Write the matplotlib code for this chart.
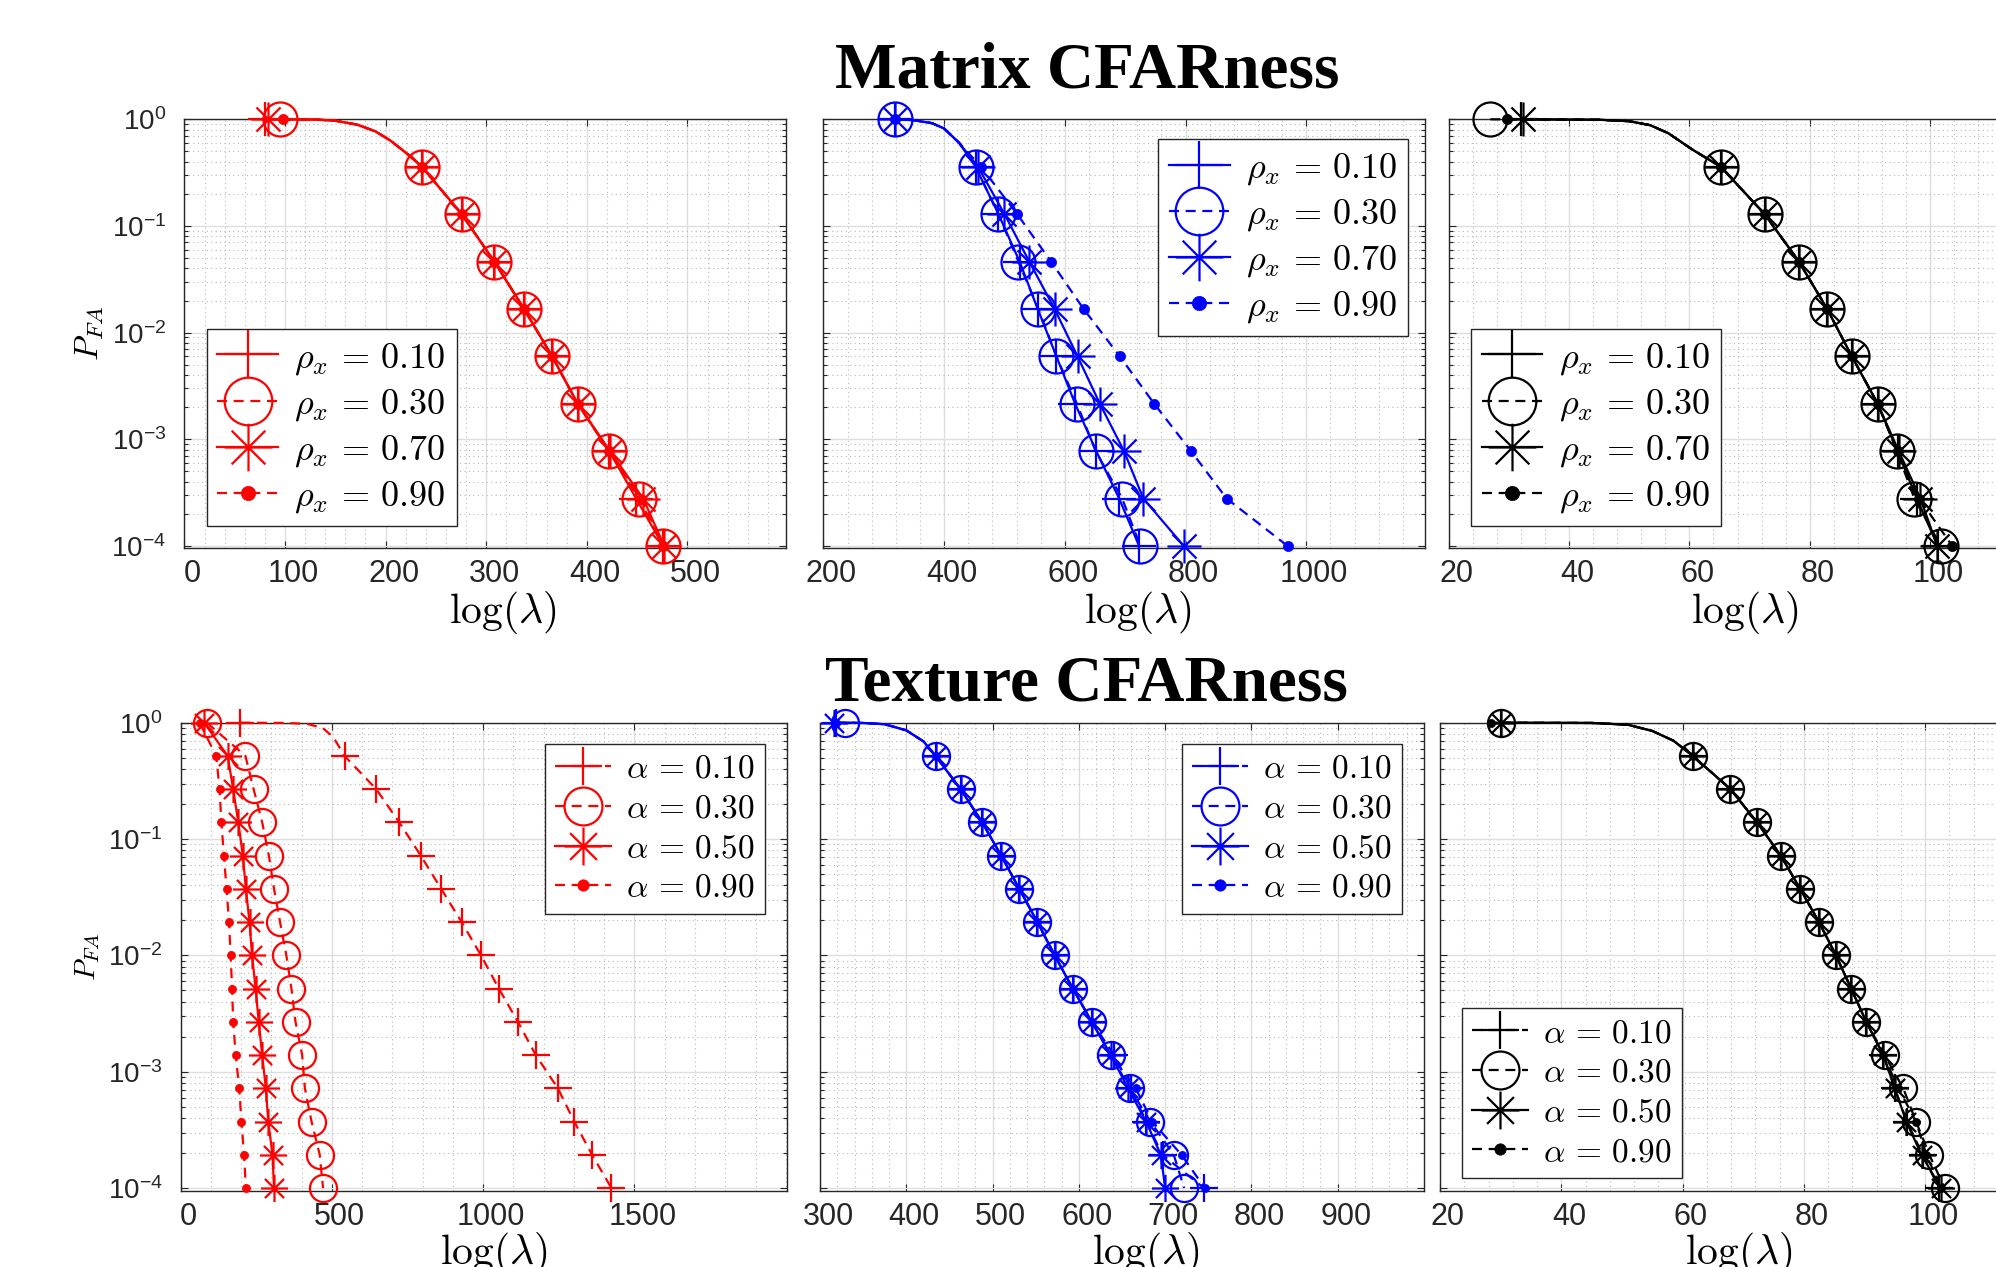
import matplotlib
matplotlib.use("Agg")
import matplotlib.pyplot as plt
from matplotlib.path import Path
from matplotlib.transforms import ScaledTranslation
from matplotlib.ticker import FixedLocator, MultipleLocator, LogLocator, FuncFormatter, NullFormatter
import math

plt.rcParams['font.family'] = ['Liberation Sans', 'DejaVu Sans']
plt.rcParams['mathtext.fontset'] = 'custom'
plt.rcParams['mathtext.rm'] = 'Liberation Sans'
plt.rcParams['mathtext.it'] = 'Liberation Sans:italic'
plt.rcParams['mathtext.bf'] = 'Liberation Sans:bold'

# ---------------- data ----------------
PFA_TOP = [1.0, 0.3594, 0.1292, 0.04642, 0.01668, 0.005995, 0.002154, 0.0007743, 0.0002783, 0.0001]
PFA_BOT = [1.0, 0.5179, 0.2683, 0.1389, 0.07197, 0.03728, 0.01931, 0.01, 0.005179,
           0.002683, 0.001389, 0.0007197, 0.0003728, 0.0001931, 0.0001]

RHO_LABELS = [r'$\rho_x \,=\, 0.10$', r'$\rho_x \,=\, 0.30$', r'$\rho_x \,=\, 0.70$', r'$\rho_x \,=\, 0.90$']
ALPHA_LABELS = [r'$\alpha \,=\, 0.10$', r'$\alpha \,=\, 0.30$', r'$\alpha \,=\, 0.50$', r'$\alpha \,=\, 0.90$']

# Matrix CFARness - red panel
m_red_010 = [80, 236, 275.6, 308, 337.6, 365.5, 390.9, 422.3, 449, 476]
m_red_030 = [95, 236, 275.6, 308, 337.6, 365.5, 390.9, 422, 452, 475.6]
m_red_070 = [83, 236, 275.6, 308, 337.6, 365.5, 391, 423, 456, 477]
m_red_090 = [98, 236, 275.6, 308, 337.6, 365.5, 390.9, 422.3, 454, 476]
m_red_sh_x = [130, 150, 172, 190, 205, 222]
m_red_sh_p = [0.995, 0.97, 0.89, 0.77, 0.63, 0.47]

# Matrix CFARness - blue panel
m_blue_010 = [318, 452, 490, 525, 555, 586, 617, 652, 690, 723]
m_blue_030 = [318, 452, 490, 523, 556, 586, 620, 651, 695, 725]
m_blue_070 = [318, 456, 500, 541, 583, 621, 658, 698, 730, 797]
m_blue_090 = [318, 461, 521, 577, 631, 691, 748, 809, 868, 969]
m_blue_sh_x = [350, 380, 400, 425]
m_blue_sh_p = [0.98, 0.92, 0.82, 0.6]

# Matrix CFARness - black panel
m_black_010 = [32, 65.2, 72.5, 78.2, 82.9, 87.0, 91.3, 94.6, 97.8, 101.3]
m_black_030 = [26.9, 65.2, 72.5, 78.2, 82.9, 87.0, 91.3, 94.5, 97.4, 101.8]
m_black_070 = [32.4, 65.2, 72.5, 78.2, 82.9, 87.0, 91.3, 94.8, 98.4, 101.2]
m_black_090 = [29.6, 65.2, 72.5, 78.2, 82.9, 87.0, 91.3, 94.6, 98.2, 103.7]
m_black_sh_x = [45, 50, 53.5, 56.5, 60.5]
m_black_sh_p = [0.99, 0.96, 0.88, 0.74, 0.52]

# Texture CFARness - red panel
t_red_010 = [197.6, 542, 647, 723, 794, 861.5, 929, 993, 1052, 1115, 1174, 1247, 1301, 1360, 1424]
t_red_030 = [87, 214.5, 241.6, 270, 292, 309, 329, 349.7, 366.6, 380, 402, 411, 433, 460, 471]
t_red_050 = [78, 156, 174, 191, 206, 216, 228, 236.5, 248.3, 258.4, 270, 282, 290, 304, 309]
t_red_090 = [63, 118, 129, 135, 143.6, 152, 160.5, 165.5, 170.6, 174, 182.4, 194, 201.5, 210, 216]
t_red_sh_x = [350, 420, 470, 505]
t_red_sh_p = [0.995, 0.975, 0.9, 0.75]

# Texture CFARness - blue panel
t_blue_010 = [318, 434, 463, 488, 510, 531, 552, 572, 593, 615, 641, 660, 678, 697, 745]
t_blue_030 = [329, 434, 463, 488, 510, 531, 552, 572, 593, 615, 637, 659, 683, 710, 722]
t_blue_050 = [316, 434, 463, 488, 510, 531, 552, 572, 593, 615, 637, 657, 678, 695, 700]
t_blue_090 = [318, 434, 463, 488, 510, 531, 552, 572, 593, 615, 637, 666, 685, 719, 746]
t_blue_sh_x = [350, 375, 400, 420]
t_blue_sh_p = [0.995, 0.97, 0.86, 0.69]

# Texture CFARness - black panel
t_black_010 = [30, 61.7, 67.9, 72.3, 76.2, 79.4, 82.5, 85.3, 87.8, 90.3, 93.1, 95.0, 97.0, 99.6, 102.3]
t_black_030 = [30, 61.7, 67.9, 72.3, 76.2, 79.4, 82.5, 85.3, 87.8, 90.3, 93.3, 96.4, 98.5, 100.7, 103.2]
t_black_050 = [30, 61.7, 67.9, 72.3, 76.2, 79.4, 82.5, 85.3, 87.8, 90.3, 93.1, 95.0, 96.9, 99.4, 102.6]
t_black_090 = [28.4, 61.7, 67.9, 72.3, 76.2, 79.4, 82.5, 85.3, 87.8, 90.3, 93.1, 95.6, 98.5, 100.2, 102.6]
t_black_sh_x = [45, 51, 55, 58.5]
t_black_sh_p = [0.995, 0.96, 0.85, 0.7]

XTICKS_M_RED = [0, 100, 200, 300, 400, 500]
XTICKS_M_BLUE = [200, 400, 600, 800, 1000]
XTICKS_M_BLACK = [20, 40, 60, 80, 100]
XTICKS_T_RED = [0, 500, 1000, 1500]
XTICKS_T_BLUE = [300, 400, 500, 600, 700, 800, 900]
XTICKS_T_BLACK = [20, 40, 60, 80, 100]
YTICKS = [1e-4, 1e-3, 1e-2, 1e-1, 1]

# ---------------- styling ----------------
W, H = 1996, 1267
fig = plt.figure(figsize=(W / 100, H / 100), dpi=100)
fig.patch.set_facecolor('white')

c = 0.7071
ASTERISK = Path([(-1, 0), (1, 0), (0, -1), (0, 1), (-c, -c), (c, c), (-c, c), (c, -c)],
                [Path.MOVETO, Path.LINETO] * 4)

LW = 1.6
DASH = (4.5, 3.0)
AXC = '#262626'


def add_series(ax, xs, ps, sh_x, sh_p, color, kind, ls, ms, label):
    if sh_x:
        lx = [xs[0]] + list(sh_x) + list(xs[1:])
        lp = [ps[0]] + list(sh_p) + list(ps[1:])
        idx = [0] + list(range(len(sh_x) + 1, len(lx)))
    else:
        lx, lp, idx = list(xs), list(ps), list(range(len(xs)))
    kw = dict(color=color, lw=LW, clip_on=False, markevery=idx, label=label,
              markeredgewidth=LW, zorder=3)
    if ls == '--':
        kw['linestyle'] = '--'
        kw['dashes'] = DASH
    else:
        kw['linestyle'] = '-'
    if kind == '+':
        kw.update(marker='+', markersize=ms)
    elif kind == 'o':
        kw.update(marker='o', markersize=ms, markerfacecolor='none')
    elif kind == '*':
        kw.update(marker=ASTERISK, markersize=ms, markerfacecolor='none')
    else:
        kw.update(marker='o', markersize=ms * 0.3, markerfacecolor=color, markeredgewidth=0.5)
    line, = ax.plot(lx, lp, **kw)
    return line


def make_axes(left_px, top_px, right_px, bottom_px):
    return fig.add_axes([left_px / W, 1 - bottom_px / H, (right_px - left_px) / W,
                         (bottom_px - top_px) / H])


def style_axes(ax, xlim, xticks, xminor, show_ylabels, ylabel_size):
    ax.set_yscale('log')
    ax.set_ylim(9.5e-5, 1)
    ax.set_xlim(*xlim)
    ax.xaxis.set_major_locator(FixedLocator(xticks))
    ax.xaxis.set_minor_locator(MultipleLocator(xminor))
    ax.yaxis.set_major_locator(FixedLocator(YTICKS))
    ax.yaxis.set_minor_locator(LogLocator(base=10, subs=[2, 3, 4, 5, 6, 7, 8, 9], numticks=20))
    ax.yaxis.set_minor_formatter(NullFormatter())
    ax.yaxis.set_major_formatter(FuncFormatter(
        lambda v, p: r'$10^{%d}$' % int(round(math.log10(v)))))
    ax.set_axisbelow(True)
    ax.grid(True, which='major', color='#dedede', lw=1.0, ls='-')
    ax.grid(True, which='minor', color='#b8b8b8', lw=0.8, ls=(0, (1, 3)))
    ax.tick_params(which='both', direction='in', top=True, right=True, colors=AXC, width=0.8)
    ax.tick_params(which='major', length=5)
    ax.tick_params(which='minor', length=3)
    ax.tick_params(axis='x', which='minor', length=0)
    ax.tick_params(axis='x', labelsize=22, pad=8, labelcolor=AXC)
    ax.tick_params(axis='y', labelsize=20, pad=13, labelcolor=AXC, labelleft=show_ylabels)
    for s in ax.spines.values():
        s.set_color(AXC)
        s.set_linewidth(1.0)
    if show_ylabels:
        ax.set_ylabel(r'$P_{FA}$', fontsize=ylabel_size, math_fontfamily='cm', color='black')
        ax.yaxis.set_label_coords(-0.13, 0.5)
    # MATLAB export shifts x tick labels slightly to the right of their ticks
    ticks = ax.xaxis.get_major_ticks(len(xticks))
    off = ScaledTranslation(8 / 100, 0, fig.dpi_scale_trans)
    for t in ticks:
        t.label1.set_transform(t.label1.get_transform() + off)


def add_legend(ax, handles, labels, loc, anchor, fs, hl, ls):
    leg = ax.legend(handles, labels, loc=loc, bbox_to_anchor=anchor, borderaxespad=0,
                    fontsize=fs, markerscale=1.4, handlelength=hl, handletextpad=0.45,
                    labelspacing=ls, borderpad=0.3, fancybox=False, framealpha=1,
                    edgecolor=AXC, numpoints=1)
    leg.get_frame().set_linewidth(1.0)
    for t in leg.get_texts():
        t.set_math_fontfamily('cm')
    leg.set_zorder(10)
    return leg


TOP_STYLES = [('+', '-'), ('o', '--'), ('*', '-'), ('.', '--')]
BOT_STYLES = [('+', '--'), ('o', '--'), ('*', '-'), ('.', '--')]

panels = [
    dict(rect=(184.4, 119.3, 786.0, 548.3), color='red',
         series=[m_red_010, m_red_030, m_red_070, m_red_090], sh=(m_red_sh_x, m_red_sh_p), sh_use=[0, 1, 2, 3],
         xlim=(0, 598), xticks=XTICKS_M_RED, minor=20, styles=TOP_STYLES, pfa=PFA_TOP, ms=24.5,
         labels=RHO_LABELS, loc='lower left', anchor=(0.037, 0.052), fs=26, hl=1.68, lsp=0.27,
         xl=(0.53, -0.095), ylab=True, ylsize=24),
    dict(rect=(823.4, 119.3, 1425.2, 548.3), color='blue',
         series=[m_blue_010, m_blue_030, m_blue_070, m_blue_090], sh=(m_blue_sh_x, m_blue_sh_p), sh_use=[0, 1, 2, 3],
         xlim=(200, 1197), xticks=XTICKS_M_BLUE, minor=40, styles=TOP_STYLES, pfa=PFA_TOP, ms=24.5,
         labels=RHO_LABELS, loc='upper right', anchor=(0.972, 0.953), fs=26, hl=1.68, lsp=0.27,
         xl=(0.5225, -0.095), ylab=False, ylsize=24),
    dict(rect=(1448.8, 119.3, 2050.3, 548.3), color='black',
         series=[m_black_010, m_black_030, m_black_070, m_black_090], sh=(m_black_sh_x, m_black_sh_p), sh_use=[0, 1, 2, 3],
         xlim=(20, 120), xticks=XTICKS_M_BLACK, minor=4, styles=TOP_STYLES, pfa=PFA_TOP, ms=24.5,
         labels=RHO_LABELS, loc='lower left', anchor=(0.0366, 0.052), fs=26, hl=1.68, lsp=0.27,
         xl=(0.4925, -0.095), ylab=False, ylsize=24),
    dict(rect=(180.5, 722.7, 786.7, 1190.7), color='red',
         series=[t_red_010, t_red_030, t_red_050, t_red_090], sh=(t_red_sh_x, t_red_sh_p), sh_use=[0],
         xlim=(0, 2003), xticks=XTICKS_T_RED, minor=100, styles=BOT_STYLES, pfa=PFA_BOT, ms=19.5,
         labels=ALPHA_LABELS, loc='upper right', anchor=(0.964, 0.9545), fs=24, hl=1.68, lsp=0.26,
         xl=(0.517, -0.085), ylab=True, ylsize=21),
    dict(rect=(820.0, 722.7, 1424.0, 1190.7), color='blue',
         series=[t_blue_010, t_blue_030, t_blue_050, t_blue_090], sh=(t_blue_sh_x, t_blue_sh_p), sh_use=[0, 1, 2, 3],
         xlim=(300, 1000), xticks=XTICKS_T_BLUE, minor=20, styles=BOT_STYLES, pfa=PFA_BOT, ms=19.5,
         labels=ALPHA_LABELS, loc='upper right', anchor=(0.9636, 0.9545), fs=24, hl=1.68, lsp=0.26,
         xl=(0.54, -0.085), ylab=False, ylsize=21),
    dict(rect=(1440.0, 722.7, 2044.0, 1190.7), color='black',
         series=[t_black_010, t_black_030, t_black_050, t_black_090], sh=(t_black_sh_x, t_black_sh_p), sh_use=[0, 1, 2, 3],
         xlim=(20, 119.6), xticks=XTICKS_T_BLACK, minor=4, styles=BOT_STYLES, pfa=PFA_BOT, ms=19.5,
         labels=ALPHA_LABELS, loc='lower left', anchor=(0.0364, 0.027), fs=24, hl=1.68, lsp=0.26,
         xl=(0.495, -0.085), ylab=False, ylsize=21),
]

for p in panels:
    ax = make_axes(*p['rect'])
    style_axes(ax, p['xlim'], p['xticks'], p['minor'], p['ylab'], p['ylsize'])
    handles = []
    for i, xs in enumerate(p['series']):
        kind, ls = p['styles'][i]
        if i in p['sh_use']:
            sx, sp = p['sh']
        else:
            sx, sp = [], []
        h = add_series(ax, xs, p['pfa'], sx, sp, p['color'], kind, ls, p['ms'], p['labels'][i])
        handles.append(h)
    add_legend(ax, handles, p['labels'], p['loc'], p['anchor'], p['fs'], p['hl'], p['lsp'])
    ax.set_xlabel(r'$\log(\lambda)$', fontsize=30, math_fontfamily='cm', color='black')
    ax.xaxis.set_label_coords(*p['xl'])

fig.text(1087 / W, 1 - 87 / H, 'Matrix CFARness', ha='center', va='baseline',
         fontsize=47, fontweight='bold', family='Liberation Serif')
fig.text(1086 / W, 1 - 701 / H, 'Texture CFARness', ha='center', va='baseline',
         fontsize=47, fontweight='bold', family='Liberation Serif')

fig.savefig('out.png', dpi=100, facecolor='white')
